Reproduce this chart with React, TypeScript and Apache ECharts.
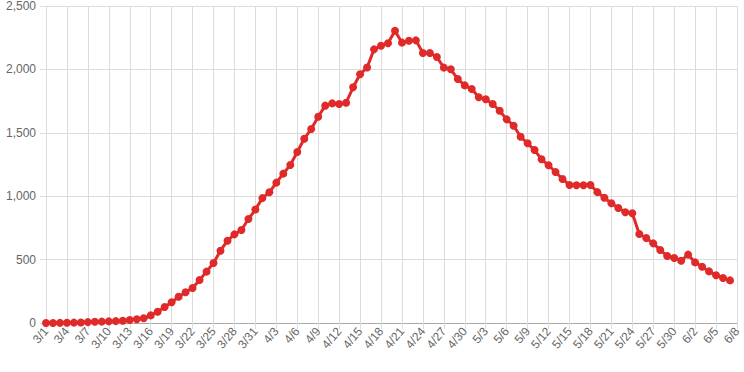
import React, { useEffect, useRef } from "react";
import * as echarts from "echarts";

const months: [number, number][] = [
  [3, 31],
  [4, 30],
  [5, 31],
  [6, 8],
];
const categories: string[] = [];
for (const [m, n] of months) for (let d = 1; d <= n; d++) categories.push(`${m}/${d}`);

const values: number[] = [
  0, 0, 1, 2, 3, 4, 7, 10, 11, 13, 15, 18, 24, 29, 37, 60, 89, 126, 163, 207,
  242, 276, 339, 405, 473, 570, 649, 699, 733, 820, 895, 985, 1031, 1107, 1178,
  1246, 1349, 1453, 1530, 1627, 1714, 1732, 1727, 1737, 1859, 1962, 2015, 2158,
  2187, 2206, 2305, 2211, 2226, 2229, 2129, 2129, 2098, 2014, 2001, 1924, 1874,
  1845, 1780, 1764, 1727, 1674, 1606, 1556, 1469, 1417, 1364, 1291, 1244, 1191,
  1136, 1088, 1086, 1086, 1088, 1032, 988, 944, 907, 873, 865, 702, 670, 628,
  576, 528, 513, 491, 539, 478, 444, 407, 376, 355, 336,
];

const yTicks = { min: 0, max: 2500, interval: 500 };

export default function App() {
  const ref = useRef<HTMLDivElement>(null);
  useEffect(() => {
    const chart = echarts.init(ref.current!, null, { renderer: "svg" });
    chart.setOption({
      animation: false,
      grid: { left: 46, right: 7, top: 6, bottom: 49, containLabel: false },
      xAxis: {
        type: "category",
        data: categories,
        boundaryGap: false,
        axisLine: { show: true, lineStyle: { color: "#a8a8a8", width: 1 } },
        axisTick: {
          show: true,
          interval: 2,
          length: 6,
          lineStyle: { color: "#dcdcdc" },
        },
        axisLabel: {
          interval: 2,
          rotate: 50,
          margin: 6,
          color: "#666",
          fontSize: 12,
          fontFamily: "Liberation Sans, Arial, sans-serif",
        },
        splitLine: { show: true, interval: 2, lineStyle: { color: "#dcdcdc", width: 1 } },
      },
      yAxis: {
        type: "value",
        min: yTicks.min,
        max: yTicks.max,
        interval: yTicks.interval,
        axisLine: { show: true, lineStyle: { color: "#dcdcdc" } },
        axisTick: { show: true, length: 6, lineStyle: { color: "#dcdcdc" } },
        axisLabel: {
          margin: 10,
          color: "#666",
          fontSize: 12,
          fontFamily: "Liberation Sans, Arial, sans-serif",
          formatter: (v: number) => v.toLocaleString("en-US"),
        },
        splitLine: { show: true, lineStyle: { color: "#dcdcdc", width: 1 } },
      },
      series: [
        {
          type: "line",
          data: values,
          symbol: "circle",
          symbolSize: 8,
          showAllSymbol: true,
          lineStyle: { color: "#e02a2a", width: 3 },
          itemStyle: { color: "#e02a2a" },
        },
      ],
    });
    return () => chart.dispose();
  }, []);
  return <div ref={ref} style={{ width: 744, height: 372, position: "absolute", left: 0, top: 0 }} />;
}
